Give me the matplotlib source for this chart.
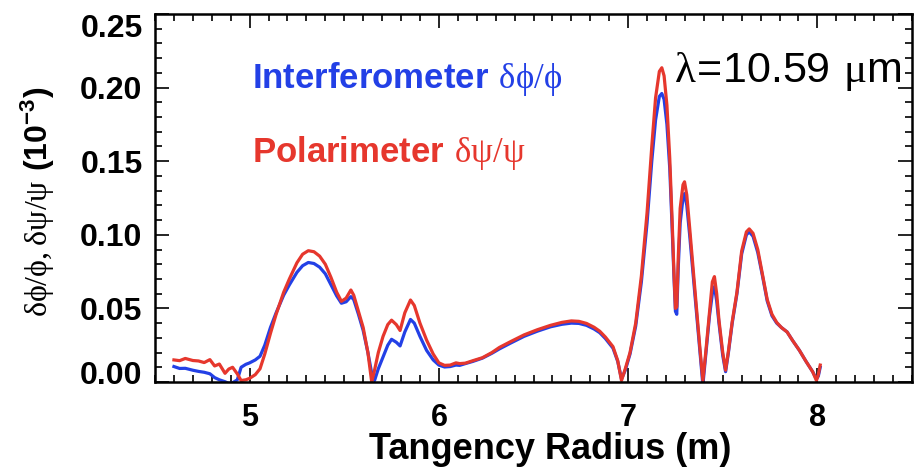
import matplotlib
matplotlib.use("Agg")
import matplotlib.pyplot as plt
import matplotlib.transforms as mtransforms
from matplotlib.ticker import MultipleLocator

# Tangency radius (m) and the two normalised perturbation profiles (1e-3)
radius = [4.60, 4.63, 4.66, 4.70, 4.73, 4.76, 4.79, 4.815, 4.84, 4.87, 4.89, 4.91, 4.935, 4.955,
          4.98, 5.00, 5.03, 5.055, 5.08, 5.11, 5.14, 5.18, 5.21, 5.25, 5.28, 5.31, 5.34, 5.37,
          5.40, 5.43, 5.46, 5.485, 5.51, 5.535, 5.55, 5.575, 5.60, 5.625, 5.645, 5.66, 5.68, 5.705,
          5.73, 5.75, 5.775, 5.795, 5.82, 5.85, 5.87, 5.90, 5.935, 5.97, 6.00, 6.03, 6.06, 6.09,
          6.11, 6.14, 6.18, 6.23, 6.28, 6.32, 6.38, 6.45, 6.52, 6.59, 6.65, 6.70, 6.74, 6.78,
          6.82, 6.85, 6.88, 6.92, 6.945, 6.965, 6.985, 7.01, 7.04, 7.07, 7.10, 7.125, 7.145, 7.165,
          7.178, 7.19, 7.205, 7.22, 7.233, 7.242, 7.25, 7.257, 7.265, 7.275, 7.29, 7.298, 7.31, 7.325,
          7.34, 7.36, 7.38, 7.395, 7.41, 7.43, 7.445, 7.456, 7.468, 7.48, 7.50, 7.515, 7.53, 7.55,
          7.575, 7.60, 7.625, 7.64, 7.66, 7.685, 7.71, 7.735, 7.76, 7.785, 7.81, 7.84, 7.87, 7.905,
          7.94, 7.975, 7.995, 8.005, 8.015]

interferometer = [0.0105, 0.0092, 0.0093, 0.0080, 0.0072, 0.0066, 0.0056, 0.0030, 0.0015, 0.0002, -0.0010, -0.0005, 0.0015, 0.0100,
                  0.0120, 0.0130, 0.0150, 0.0175, 0.0250, 0.0370, 0.0470, 0.0590, 0.0660, 0.0745, 0.0790, 0.0812, 0.0805, 0.0780,
                  0.0735, 0.0660, 0.0585, 0.0535, 0.0545, 0.0580, 0.0560, 0.0460, 0.0350, 0.0200, 0.0060, 0.0010, 0.0090, 0.0170,
                  0.0250, 0.0290, 0.0270, 0.0245, 0.0340, 0.0425, 0.0400, 0.0310, 0.0215, 0.0150, 0.0115, 0.0102, 0.0105, 0.0115,
                  0.0113, 0.0125, 0.0140, 0.0162, 0.0195, 0.0225, 0.0265, 0.0310, 0.0345, 0.0375, 0.0392, 0.0400, 0.0398, 0.0385,
                  0.0360, 0.0335, 0.0295, 0.0230, 0.0140, 0.0020, 0.0080, 0.0190, 0.0380, 0.0680, 0.1080, 0.1500, 0.1780, 0.1940,
                  0.1960, 0.1920, 0.1750, 0.1450, 0.1030, 0.0720, 0.0480, 0.0460, 0.0780, 0.1080, 0.1250, 0.1280, 0.1200, 0.1000,
                  0.0780, 0.0480, 0.0190, -0.0020, 0.0180, 0.0450, 0.0600, 0.0648, 0.0550, 0.0400, 0.0180, 0.0070, 0.0200, 0.0400,
                  0.0600, 0.0870, 0.1000, 0.1020, 0.0990, 0.0880, 0.0720, 0.0550, 0.0450, 0.0400, 0.0370, 0.0340, 0.0280, 0.0215,
                  0.0140, 0.0070, 0.0020, 0.0040, 0.0100]

polarimeter = [0.0150, 0.0145, 0.0160, 0.0146, 0.0143, 0.0132, 0.0152, 0.0109, 0.0122, 0.0059, 0.0088, 0.0100, 0.0055, 0.0010,
               0.0015, 0.0025, 0.0050, 0.0090, 0.0190, 0.0330, 0.0460, 0.0610, 0.0700, 0.0810, 0.0868, 0.0892, 0.0885, 0.0855,
               0.0800, 0.0710, 0.0610, 0.0548, 0.0570, 0.0625, 0.0590, 0.0480, 0.0370, 0.0200, 0.0000, 0.0080, 0.0200, 0.0310,
               0.0390, 0.0420, 0.0390, 0.0350, 0.0470, 0.0557, 0.0520, 0.0400, 0.0285, 0.0190, 0.0130, 0.0113, 0.0115, 0.0130,
               0.0125, 0.0128, 0.0145, 0.0165, 0.0200, 0.0235, 0.0275, 0.0320, 0.0355, 0.0385, 0.0405, 0.0415, 0.0412, 0.0398,
               0.0372, 0.0345, 0.0305, 0.0240, 0.0145, 0.0010, 0.0090, 0.0200, 0.0400, 0.0720, 0.1150, 0.1600, 0.1930, 0.2110,
               0.2135, 0.2080, 0.1880, 0.1520, 0.1080, 0.0750, 0.0500, 0.0510, 0.0850, 0.1180, 0.1340, 0.1360, 0.1270, 0.1050,
               0.0820, 0.0520, 0.0220, 0.0010, 0.0200, 0.0470, 0.0680, 0.0716, 0.0600, 0.0420, 0.0200, 0.0080, 0.0210, 0.0410,
               0.0610, 0.0890, 0.1020, 0.1040, 0.1010, 0.0900, 0.0730, 0.0560, 0.0460, 0.0405, 0.0370, 0.0340, 0.0280, 0.0215,
               0.0140, 0.0070, 0.0010, 0.0050, 0.0115]

ytick_vals = [0.00, 0.05, 0.10, 0.15, 0.20, 0.25]
xtick_vals = [5, 6, 7, 8]

blue = "#2340e6"
red = "#e6372d"

plt.rcParams['font.family'] = ['Liberation Sans', 'DejaVu Sans']
plt.rcParams['mathtext.fontset'] = 'custom'
plt.rcParams['mathtext.rm'] = 'Liberation Serif'
plt.rcParams['mathtext.sf'] = 'Liberation Sans'
plt.rcParams['mathtext.bf'] = 'Liberation Sans:bold'

fig = plt.figure(figsize=(9.14, 4.74), dpi=100)
ax = fig.add_axes([155 / 914, 92 / 474, 757 / 914, 368 / 474])

ax.plot(radius, interferometer, color=blue, lw=2.3, solid_joinstyle='round')
ax.plot(radius, polarimeter, color=red, lw=2.3, solid_joinstyle='round')

ax.set_xlim(4.5, 8.5)
ax.set_ylim(0, 0.25)
ax.set_xticks(xtick_vals)
ax.set_yticks(ytick_vals)
ax.set_yticklabels([f"{v:.2f}" for v in ytick_vals])
ax.xaxis.set_minor_locator(MultipleLocator(0.1))
ax.yaxis.set_minor_locator(MultipleLocator(0.01))

for s in ax.spines.values():
    s.set_linewidth(1.8)
ax.tick_params(which='both', direction='in', top=True, right=True, width=1.2)
ax.tick_params(which='major', length=10)
ax.tick_params(which='minor', length=5)
ax.tick_params(axis='y', which='major', pad=9, labelsize=23)
ax.tick_params(axis='x', which='major', pad=15, labelsize=22)
for lbl in ax.get_xticklabels() + ax.get_yticklabels():
    lbl.set_fontweight('bold')

# end labels on the y axis sit a bit inside the frame
labels = ax.get_yticklabels()
labels[0].set_transform(labels[0].get_transform() + mtransforms.ScaledTranslation(0, 7 / 72, fig.dpi_scale_trans))
labels[-1].set_transform(labels[-1].get_transform() + mtransforms.ScaledTranslation(0, -8 / 72, fig.dpi_scale_trans))

ax.set_xlabel('Tangency Radius (m)', fontsize=26, fontweight='bold')
ax.xaxis.set_label_coords(0.522, -0.137)
ax.set_ylabel(r'$\mathrm{δϕ/ϕ,δψ/ψ}\ \mathbf{(10^{-3})}$', fontsize=23)
ax.yaxis.set_label_coords(-0.13, 0.49)

ax.text(0.128, 0.80, r'$\mathbf{Interferometer}\ \mathrm{δϕ/ϕ}$', color=blue, fontsize=25,
        transform=ax.transAxes, va='baseline')
ax.text(0.128, 0.598, r'$\mathbf{Polarimeter}\ \mathrm{δψ/ψ}$', color=red, fontsize=25,
        transform=ax.transAxes, va='baseline')
ax.text(0.6856, 0.815, r'$\mathrm{λ}\!\mathsf{=}\!\mathsf{10.59}\ \mathrm{μ}\mathsf{m}$', color='black', fontsize=31,
        transform=ax.transAxes, va='baseline')

fig.savefig('out.png', dpi=100)
